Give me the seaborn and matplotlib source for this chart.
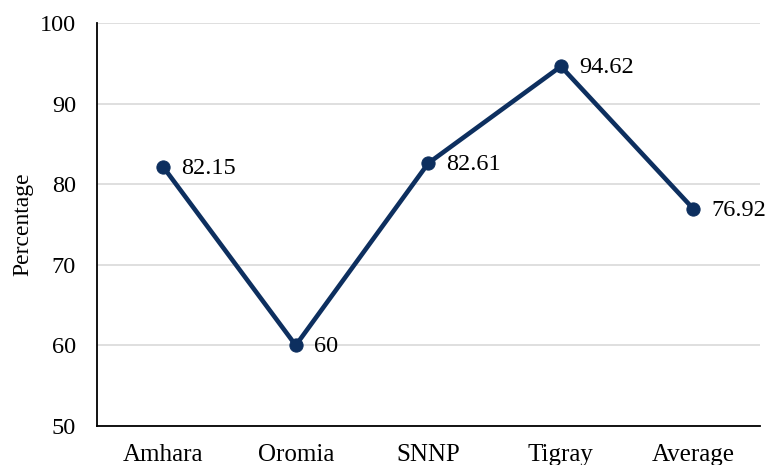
import matplotlib
matplotlib.use("Agg")
import matplotlib.pyplot as plt
import seaborn as sns
import pandas as pd

regions = ["Amhara", "Oromia", "SNNP", "Tigray", "Average"]
percentages = [82.15, 60, 82.61, 94.62, 76.92]
value_labels = ["82.15", "60", "82.61", "94.62", "76.92"]
y_ticks = [50, 60, 70, 80, 90, 100]

sns.set_theme(style="white")
plt.rcParams["font.family"] = ["Liberation Serif", "DejaVu Serif"]

df = pd.DataFrame({"Region": regions, "Percentage": percentages})
df["pos"] = range(len(regions))

fig = plt.figure(figsize=(7.69, 4.65), dpi=100)
ax = fig.add_axes([0.126, 0.084, 0.862, 0.8665])

navy = "#0d2f5f"
sns.lineplot(data=df, x="pos", y="Percentage", ax=ax, color=navy,
             linewidth=3.3, marker="o", markersize=9.5, markeredgecolor=navy,
             zorder=3)

for x, y, lab in zip(df["pos"], df["Percentage"], value_labels):
    ax.annotate(lab, (x, y), xytext=(13, -1), textcoords="offset points",
                ha="left", va="center", fontsize=17.5, color="black")

ax.set_xlim(-0.5, len(regions) - 0.5)
ax.set_ylim(50, 100)
ax.set_xticks(df["pos"])
ax.set_xticklabels(regions)
ax.set_yticks(y_ticks)
ax.tick_params(axis="both", length=0, colors="black")
ax.tick_params(axis="x", pad=13, labelsize=18)
ax.tick_params(axis="y", pad=15, labelsize=17.5)
ax.set_xlabel("")
ax.set_ylabel("Percentage", fontsize=17, color="black")
ax.yaxis.set_label_coords(-0.0965, 0.5)

ax.grid(axis="y", color="#d9d9d9", linewidth=1.2)
ax.set_axisbelow(True)
for side in ["top", "right"]:
    ax.spines[side].set_visible(False)
for side in ["left", "bottom"]:
    ax.spines[side].set_color("black")
    ax.spines[side].set_linewidth(1.3)

fig.savefig("out.png", dpi=100)
